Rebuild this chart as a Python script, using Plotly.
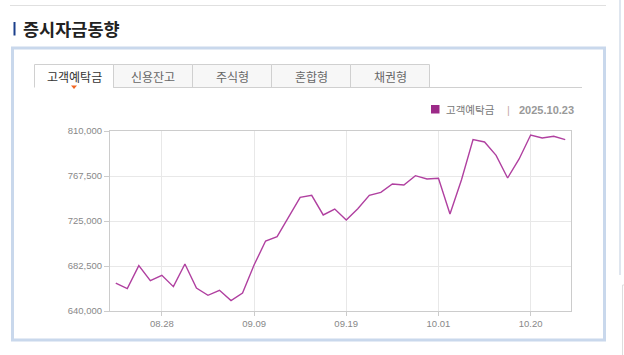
import plotly.graph_objects as go

# ---- data ----
dates = ["08.22", "08.25", "08.26", "08.27", "08.28", "08.29", "09.01", "09.02", "09.03", "09.04",
         "09.05", "09.08", "09.09", "09.10", "09.11", "09.12", "09.15", "09.16", "09.17", "09.18",
         "09.19", "09.22", "09.23", "09.24", "09.25", "09.26", "09.29", "09.30", "10.01", "10.02",
         "10.10", "10.13", "10.14", "10.15", "10.16", "10.17", "10.20", "10.21", "10.22", "10.23"]
deposits = [666400, 661100, 682800, 668600, 673700, 663000, 684400, 661700, 654800, 659500,
            649800, 657000, 683400, 706100, 710200, 728800, 747400, 749200, 730700, 736300,
            725900, 736600, 749200, 752100, 759900, 759000, 767800, 764700, 765300, 731600,
            764000, 801800, 799600, 787000, 765600, 783600, 806200, 803400, 805000, 801800]
x_ticks = ["08.28", "09.09", "09.19", "10.01", "10.20"]
y_ticks = [640000, 682500, 725000, 767500, 810000]
y_tick_text = ["640,000", "682,500", "725,000", "767,500", "810,000"]
tabs = ["고객예탁금", "신용잔고", "주식형", "혼합형", "채권형"]
title_text = "증시자금동향"
series_name = "고객예탁금"
last_date = "2025.10.23"

W, H = 624, 355
L, R, T, B = 110, 571, 131, 311
PW, PH = R - L, B - T


def px(x):
    return (x - L) / PW


def py(y):
    return (B - y) / PH


fig = go.Figure()
fig.add_trace(go.Scatter(x=dates, y=deposits, mode="lines", name=series_name,
                         line=dict(color="#b040a0", width=1.4), hoverinfo="x+y"))

shapes = []
# top separator line
shapes.append(dict(type="line", xref="paper", yref="paper", x0=px(10), x1=px(606), y0=py(5.5), y1=py(5.5),
                   line=dict(color="#e0e0e0", width=1)))
# right page edge lines
shapes.append(dict(type="line", xref="paper", yref="paper", x0=px(620), x1=px(620), y0=py(0), y1=py(275),
                   line=dict(color="#dfe6ef", width=2)))
shapes.append(dict(type="line", xref="paper", yref="paper", x0=px(622.5), x1=px(622.5), y0=py(285), y1=py(355),
                   line=dict(color="#dddddd", width=1)))
shapes.append(dict(type="line", xref="paper", yref="paper", x0=px(622.5), x1=px(630), y0=py(285), y1=py(285),
                   line=dict(color="#dddddd", width=1)))
# title bar
shapes.append(dict(type="rect", xref="paper", yref="paper", x0=px(13.5), x1=px(15.5), y0=py(35.5), y1=py(22),
                   line=dict(width=0), fillcolor="#1b3f8b"))
# main box
shapes.append(dict(type="rect", xref="paper", yref="paper", x0=px(12.5), x1=px(604.5), y0=py(340), y1=py(48),
                   line=dict(color="#c9d8ec", width=3), layer="below"))
# tabs
tab_edges = [34.5, 113.5, 192.5, 271.5, 350.5, 429.5]
for i in range(5):
    x0, x1 = tab_edges[i], tab_edges[i + 1]
    if i == 0:
        shapes.append(dict(type="path", xref="paper", yref="paper",
                           path=f"M {px(x0)},{py(87.5)} L {px(x0)},{py(64.5)} L {px(x1)},{py(64.5)} L {px(x1)},{py(87.5)}",
                           line=dict(color="#d0d0d0", width=1)))
    else:
        shapes.append(dict(type="rect", xref="paper", yref="paper", x0=px(x0), x1=px(x1), y0=py(87.5), y1=py(64.5),
                           line=dict(color="#d0d0d0", width=1), fillcolor="#f7f7f7", layer="below"))
shapes.append(dict(type="line", xref="paper", yref="paper", x0=px(113.5), x1=px(582), y0=py(87.5), y1=py(87.5),
                   line=dict(color="#d0d0d0", width=1)))
# active tab marker triangle
shapes.append(dict(type="path", xref="paper", yref="paper",
                   path=f"M {px(71)},{py(85.5)} L {px(77)},{py(85.5)} L {px(74)},{py(89)} Z",
                   line=dict(width=0), fillcolor="#f26522"))
# legend square
shapes.append(dict(type="rect", xref="paper", yref="paper", x0=px(431), x1=px(439.5), y0=py(113.5), y1=py(105),
                   line=dict(width=0), fillcolor="#9c2a88"))

annotations = []
annotations.append(dict(text=f"<b>{title_text}</b>", xref="paper", yref="paper", x=px(21), y=py(28.5),
                        xanchor="left", yanchor="middle", showarrow=False,
                        font=dict(family="Noto Sans CJK KR", size=17.5, color="#222222")))
for i, t in enumerate(tabs):
    cx = (tab_edges[i] + tab_edges[i + 1]) / 2
    annotations.append(dict(text=t, xref="paper", yref="paper", x=px(cx), y=py(76),
                            xanchor="center", yanchor="middle", showarrow=False,
                            font=dict(family="Noto Sans CJK KR", size=12,
                                      color="#333333" if i == 0 else "#666666")))
annotations.append(dict(text=series_name, xref="paper", yref="paper", x=px(444), y=py(109.5),
                        xanchor="left", yanchor="middle", showarrow=False,
                        font=dict(family="Noto Sans CJK KR", size=10.5, color="#777777")))
annotations.append(dict(text="|", xref="paper", yref="paper", x=px(508.5), y=py(109.5),
                        xanchor="center", yanchor="middle", showarrow=False,
                        font=dict(family="Liberation Sans", size=11, color="#c9aaa8")))
annotations.append(dict(text=f"<b>{last_date}</b>", xref="paper", yref="paper", x=px(517), y=py(109.5),
                        xanchor="left", yanchor="middle", showarrow=False,
                        font=dict(family="Liberation Sans", size=11, color="#999999")))

fig.update_layout(
    width=W, height=H, autosize=False,
    margin=dict(l=L, r=W - R, t=T, b=H - B, pad=0),
    paper_bgcolor="white", plot_bgcolor="white",
    showlegend=False,
    shapes=shapes, annotations=annotations,
    xaxis=dict(type="category", range=[-0.5, len(dates) - 0.5], tickmode="array", tickvals=x_ticks,
               ticktext=x_ticks, showgrid=True, gridcolor="#e8e8e8", gridwidth=1,
               showline=True, linecolor="#cccccc", linewidth=1, mirror=True,
               ticks="outside", ticklen=4, tickcolor="#cccccc",
               tickfont=dict(family="Liberation Sans", size=9.5, color="#888888"), fixedrange=True),
    yaxis=dict(range=[640000, 810000], tickmode="array", tickvals=y_ticks, ticktext=y_tick_text,
               showgrid=True, gridcolor="#e8e8e8", gridwidth=1, zeroline=False,
               showline=True, linecolor="#cccccc", linewidth=1, mirror=True,
               ticks="outside", ticklen=5, tickcolor="#cccccc",
               tickfont=dict(family="Liberation Sans", size=9.5, color="#888888"), fixedrange=True),
)

fig.write_html("out.html", config={"displayModeBar": False},
               post_script="document.body.style.margin='0';document.body.style.overflow='hidden';")
